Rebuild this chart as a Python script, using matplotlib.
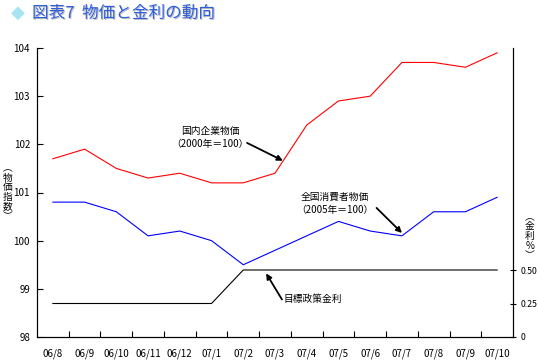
import numpy as np
import matplotlib.pyplot as plt

plt.rcParams['font.family'] = ['Noto Sans CJK JP', 'DejaVu Sans']

months = ['06/8', '06/9', '06/10', '06/11', '06/12', '07/1', '07/2', '07/3',
          '07/4', '07/5', '07/6', '07/7', '07/8', '07/9', '07/10']
cgpi = [101.7, 101.9, 101.5, 101.3, 101.4, 101.2, 101.2, 101.4,
        102.4, 102.9, 103.0, 103.7, 103.7, 103.6, 103.9]
cpi = [100.8, 100.8, 100.6, 100.1, 100.2, 100.0, 99.5, 99.8,
       100.1, 100.4, 100.2, 100.1, 100.6, 100.6, 100.9]
rate = [0.25, 0.25, 0.25, 0.25, 0.25, 0.25, 0.5, 0.5,
        0.5, 0.5, 0.5, 0.5, 0.5, 0.5, 0.5]

x = np.arange(len(months))

fig = plt.figure(figsize=(5.38, 3.6), dpi=100)
ax = fig.add_axes([37 / 538, 23 / 360, 476 / 538, 289 / 360])
ax2 = ax.twinx()

ax.plot(x, cgpi, color='#ff0000', lw=0.8)
ax.plot(x, cpi, color='#0000ff', lw=0.8)
ax2.plot(x, rate, color='black', lw=0.8)

ax.set_xlim(-0.5, len(months) - 0.5)
ax.set_ylim(98, 104)
ax2.set_ylim(0, 289 / 134)

for a in (ax, ax2):
    a.spines['top'].set_visible(False)
    a.spines['left'].set_linewidth(0.8)
    a.spines['right'].set_linewidth(0.8)
    a.spines['bottom'].set_linewidth(0.8)

ax.set_yticks(np.arange(98, 105, 1))
ax.set_yticklabels([str(v) for v in range(98, 105)])
ax.tick_params(axis='y', direction='in', length=4, width=0.8, labelsize=7, pad=5)

ax2.set_yticks([0, 0.25, 0.5])
ax2.set_yticklabels(['0', '0.25', '0.50'])
ax2.tick_params(axis='y', direction='inout', length=5, width=0.8, labelsize=6.3, pad=3)

ax.set_xticks(np.arange(0.5, len(months) - 0.5, 1))
ax.set_xticklabels([])
ax.set_xticks(x, minor=True)
ax.set_xticklabels(months, minor=True)
ax.tick_params(axis='x', which='major', direction='in', length=4, width=0.8)
ax.tick_params(axis='x', which='minor', length=0, labelsize=7, pad=8)

# axis labels (stacked vertical text)
fig.text(8 / 538, 1 - 192 / 360, '︵\n物\n価\n指\n数\n︶', ha='center', va='center',
         fontsize=7, linespacing=0.95)
fig.text(530 / 538, 1 - 236 / 360, '︵\n金\n利\n%\n︶', ha='center', va='center',
         fontsize=7, linespacing=0.95)

# annotations
arrow = dict(arrowstyle='-|>', color='black', lw=1.3, mutation_scale=8,
             shrinkA=0, shrinkB=0)
ax.text(4.95, 102.15, '国内企業物価\n（2000年＝100）', ha='center', va='center',
        fontsize=7, linespacing=1.4)
ax.annotate('', xy=(7.25, 101.66), xytext=(6.12, 102.03), arrowprops=arrow)

ax.text(8.89, 100.78, '全国消費者物価\n（2005年＝100）', ha='center', va='center',
        fontsize=7, linespacing=1.4)
ax.annotate('', xy=(11.0, 100.16), xytext=(10.2, 100.68), arrowprops=arrow)

ax2.text(7.27, 0.285, '目標政策金利', ha='left', va='center', fontsize=7)
ax2.annotate('', xy=(6.72, 0.475), xytext=(7.22, 0.28), arrowprops=arrow)

# title
fig.text(18 / 538, 1 - 13 / 360, '◆', ha='center', va='center', fontsize=13,
         color='#a6e4f0', family=['DejaVu Sans'])
fig.text(32 / 538 + 0.002, 1 - 13 / 360 - 0.004, '図表7  物価と金利の動向',
         ha='left', va='center', fontsize=12, color='#bbbbbb')
fig.text(32 / 538, 1 - 13 / 360, '図表7  物価と金利の動向',
         ha='left', va='center', fontsize=12, color='#2f5fe0')

fig.savefig('out.png', dpi=100)
